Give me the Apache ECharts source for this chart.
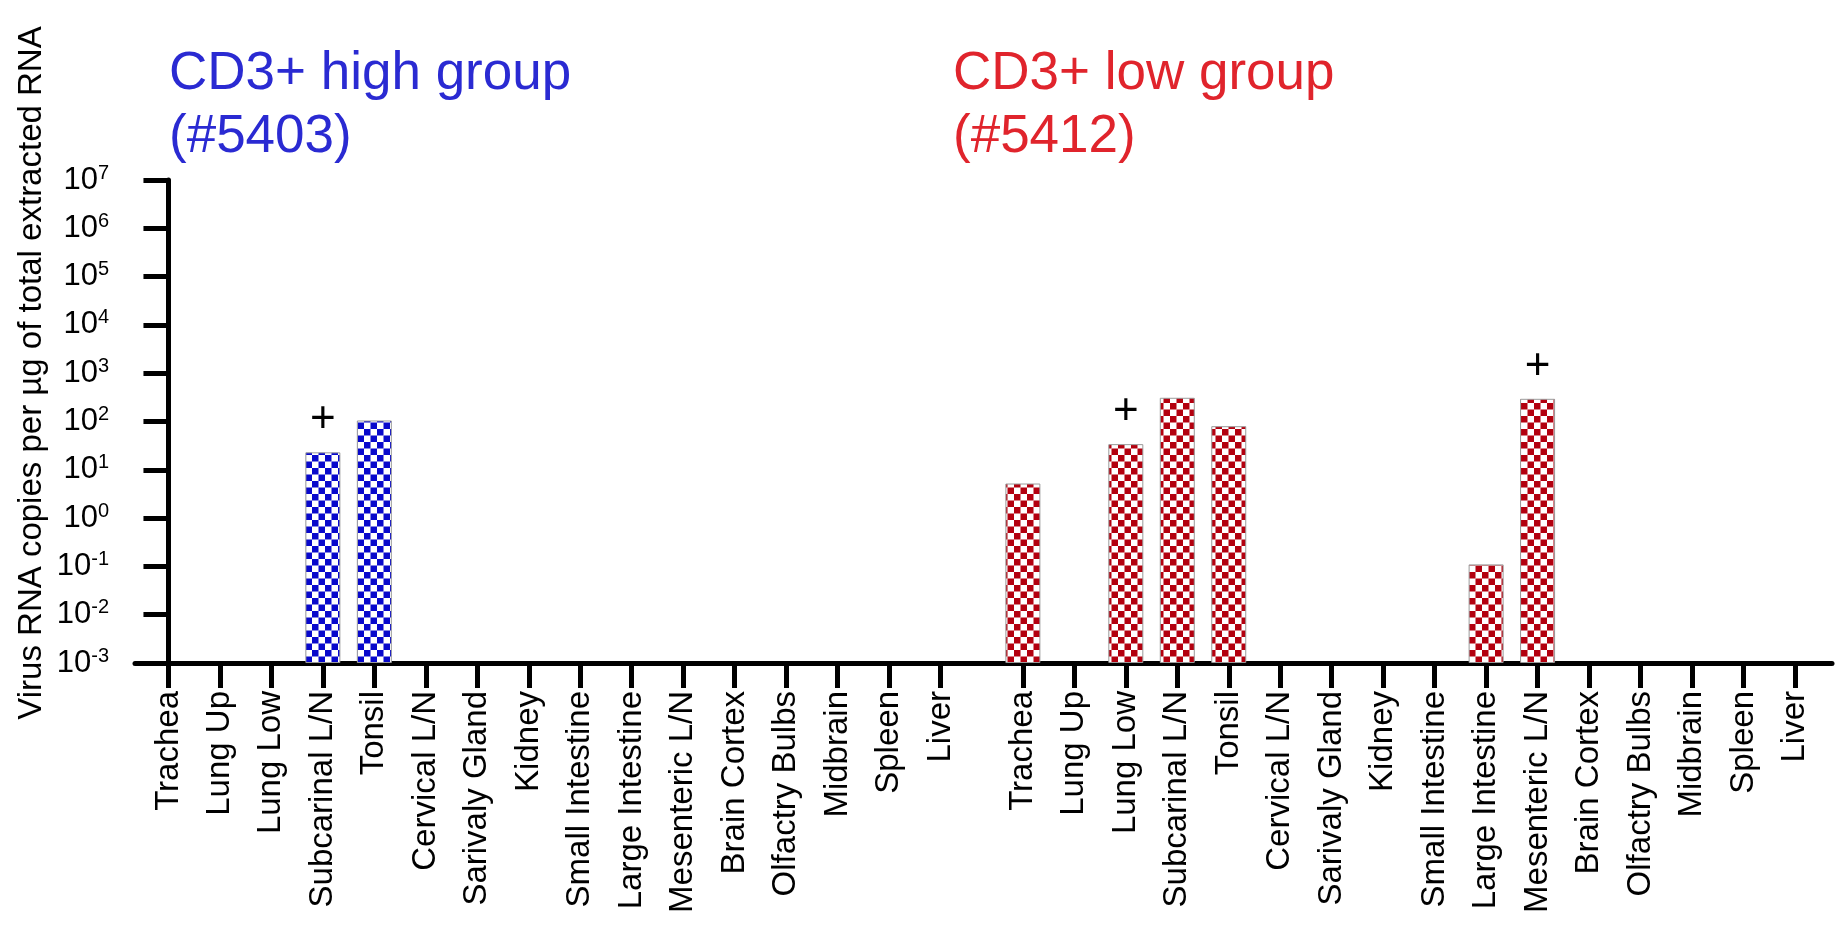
<!DOCTYPE html>
<html><head><meta charset="utf-8">
<script src="https://cdn.jsdelivr.net/npm/echarts@6/dist/echarts.min.js"></script>
<style>html,body{margin:0;padding:0;background:#fff}#c{width:1844px;height:944px}</style>
</head><body><div id="c"></div>
<script>
// ---------- data ----------
const categories = ['Trachea','Lung Up','Lung Low','Subcarinal L/N','Tonsil','Cervical L/N','Sarivaly Gland','Kidney','Small Intestine','Large Intestine','Mesenteric L/N','Brain Cortex','Olfactry Bulbs','Midbrain','Spleen','Liver'];
const highValues = [null,null,null,23,105,null,null,null,null,null,null,null,null,null,null,null];
const lowValues  = [5.2,null,34,310,80,null,null,null,null,0.11,295,null,null,null,null,null];
const highPlus   = [0,0,0,1,0,0,0,0,0,0,0,0,0,0,0,0];
const lowPlus    = [0,0,1,0,0,0,0,0,0,0,1,0,0,0,0,0];
const yTickExponents = [-3,-2,-1,0,1,2,3,4,5,6,7];
const groupTitles = ['CD3+ high group\n(#5403)', 'CD3+ low group\n(#5412)'];
const yAxisTitle = 'Virus RNA copies per \u00b5g of total extracted RNA';

// ---------- layout / style ----------
const FONT = '"Liberation Sans", Arial, Helvetica, sans-serif';
const GROUP2_OFFSET = 16.6;
const posHigh = categories.map((c, i) => i);
const posLow = categories.map((c, i) => i + GROUP2_OFFSET);
const allPos = posHigh.concat(posLow);
const allLabels = categories.concat(categories);
const yTicks = yTickExponents.map(e => Math.pow(10, e));

function labelFor(v) {
  for (let i = 0; i < allPos.length; i++) if (Math.abs(allPos[i] - v) < 1e-6) return allLabels[i];
  return '';
}
function checker(color) {
  const c = document.createElement('canvas');
  c.width = 13; c.height = 13;
  const g = c.getContext('2d');
  g.fillStyle = '#ffffff'; g.fillRect(0, 0, 13, 13);
  g.fillStyle = color;
  g.fillRect(0, 0, 6.5, 6.5); g.fillRect(6.5, 6.5, 6.5, 6.5);
  return { image: c, repeat: 'repeat' };
}
function buildData(values, pos, plus) {
  const out = [];
  values.forEach((v, i) => { if (v != null) out.push({ value: [pos[i], v], plus: !!plus[i] }); });
  return out;
}
const plusLabel = {
  show: true, position: 'top', distance: 10,
  formatter: p => (p.data.plus ? '+' : ''),
  fontSize: 44, color: '#000', fontFamily: FONT
};

const chart = echarts.init(document.getElementById('c'), null, { renderer: 'canvas' });
chart.setOption({
  animation: false,
  backgroundColor: '#fff',
  grid: { left: 135, right: 12, top: 180, bottom: 281, containLabel: false },
  xAxis: {
    type: 'value', min: -0.65, max: 32.32,
    axisLine: { show: true, onZero: false, lineStyle: { color: '#000', width: 5 } },
    axisTick: { show: true, length: 25, lineStyle: { color: '#000', width: 5 }, customValues: allPos },
    axisLabel: { rotate: 90, margin: 28, customValues: allPos, formatter: v => labelFor(v),
      fontSize: 33, color: '#000', fontFamily: FONT },
    splitLine: { show: false }
  },
  yAxis: {
    type: 'log', logBase: 10, min: 1e-3, max: 1e7, startValue: 1e-3,
    axisLine: { show: true, lineStyle: { color: '#000', width: 5 } },
    axisTick: { show: true, length: 25, lineStyle: { color: '#000', width: 5 }, customValues: yTicks },
    axisLabel: {
      customValues: yTicks, margin: 26,
      formatter: v => '{b|10}{s|' + Math.round(Math.log10(v)) + '}',
      rich: {
        b: { fontSize: 31, lineHeight: 34, color: '#000', fontFamily: FONT },
        s: { fontSize: 20, lineHeight: 20, verticalAlign: 'top', color: '#000', fontFamily: FONT }
      }
    },
    splitLine: { show: false }
  },
  graphic: [
    { type: 'text', x: 32, y: 373, rotation: Math.PI / 2,
      style: { text: yAxisTitle, font: '33px ' + FONT, fill: '#000', align: 'center', verticalAlign: 'middle', textAlign: 'center', textVerticalAlign: 'middle' } },
    { type: 'text', x: 169, y: 43,
      style: { text: groupTitles[0], font: '53px ' + FONT, lineHeight: 63, fill: '#2a2ad2' } },
    { type: 'text', x: 953, y: 43,
      style: { text: groupTitles[1], font: '53px ' + FONT, lineHeight: 63, fill: '#e0242c' } }
  ],
  series: [
    { type: 'bar', name: 'CD3+ high group', barWidth: 35, barGap: '-100%',
      data: buildData(highValues, posHigh, highPlus),
      itemStyle: { color: checker('#0808cc'), borderColor: '#9a9a9a', borderWidth: 1 },
      label: plusLabel },
    { type: 'bar', name: 'CD3+ low group', barWidth: 35, barGap: '-100%',
      data: buildData(lowValues, posLow, lowPlus),
      itemStyle: { color: checker('#b3000f'), borderColor: '#9a9a9a', borderWidth: 1 },
      label: plusLabel }
  ]
});
</script></body></html>
